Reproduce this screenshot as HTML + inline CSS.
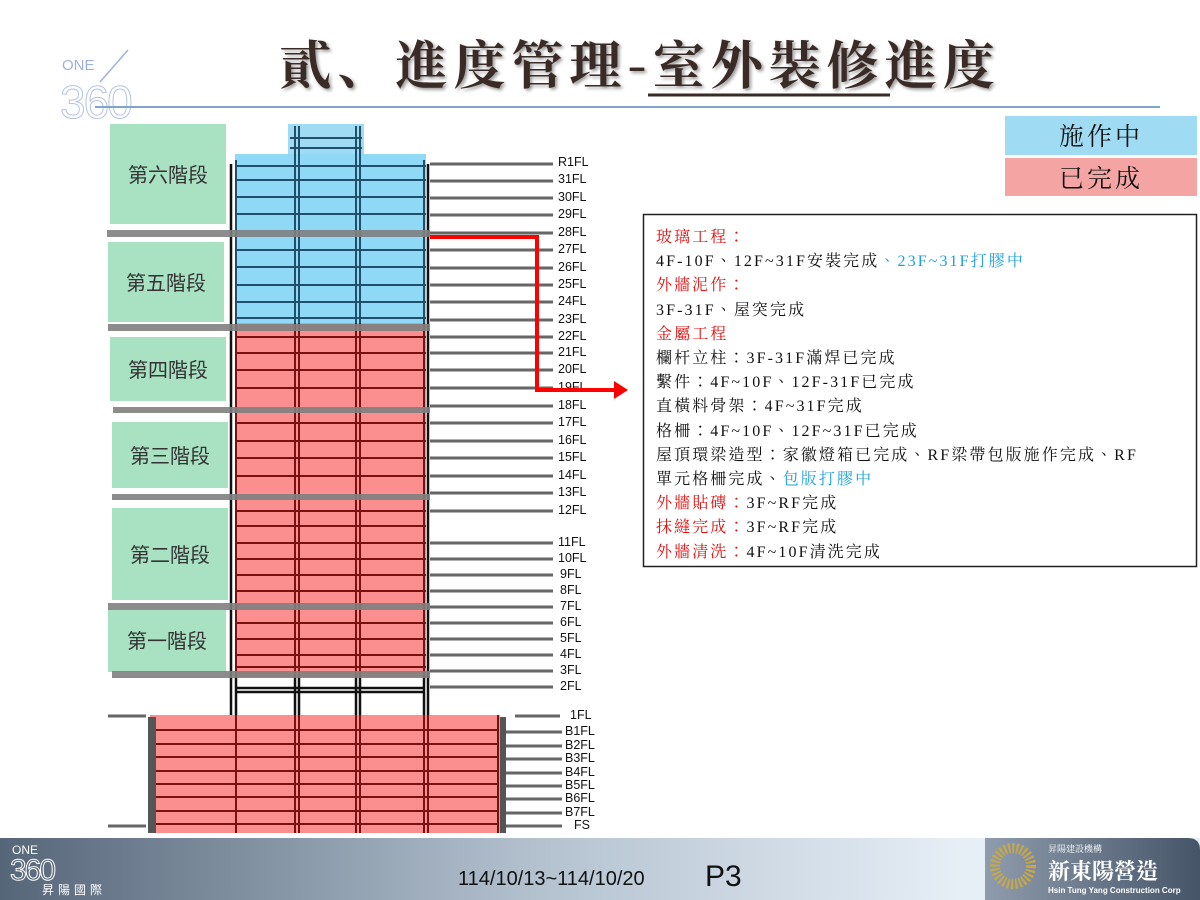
<!DOCTYPE html>
<html><head><meta charset="utf-8"><style>
html,body{margin:0;padding:0;background:#fff;}
body{width:1200px;height:900px;position:relative;overflow:hidden;font-family:"Liberation Sans","Noto Sans CJK TC",sans-serif;}
.t{position:absolute;}
</style></head><body>
<svg width="1200" height="900" style="position:absolute;left:0;top:0" xmlns="http://www.w3.org/2000/svg">
<defs>
<linearGradient id="ft" x1="0" x2="1" y1="0" y2="0"><stop offset="0" stop-color="#566679"/><stop offset="0.45" stop-color="#b4c2d0"/><stop offset="0.8" stop-color="#e6eef6"/><stop offset="1" stop-color="#e6eef6"/></linearGradient>
<linearGradient id="ft2" x1="0" x2="1"><stop offset="0" stop-color="#8e9cad"/><stop offset="1" stop-color="#465468"/></linearGradient>
</defs>
<!-- logo -->
<text x="62" y="70" font-size="15" fill="#9fb2dc" font-family="Liberation Sans">ONE</text>
<line x1="100" y1="82" x2="128" y2="50" stroke="#9fb2dc" stroke-width="1.5"/>
<text x="60" y="118" font-size="46" fill="none" stroke="#b5c4e4" stroke-width="1" font-family="Liberation Sans" letter-spacing="-2">360</text>
<line x1="95" y1="107" x2="1160" y2="107" stroke="#7fa6c8" stroke-width="2"/>
<!-- title -->
<text x="640" y="84" text-anchor="middle" font-size="52" font-weight="bold" fill="#3b2b26" font-family="Noto Serif CJK SC,serif" letter-spacing="6" style="text-shadow:2px 2px 3px #999">貳、進度管理-室外裝修進度</text>
<line x1="648" y1="95" x2="890" y2="95" stroke="#3b2b26" stroke-width="3"/>
<!-- legend -->
<rect x="1005" y="116" width="192" height="39" fill="#9fdcf4"/>
<rect x="1005" y="158" width="192" height="38" fill="#f5a4a4"/>
<text x="1101" y="145" text-anchor="middle" font-size="25" font-family="Noto Serif CJK TC,serif" fill="#111" letter-spacing="3">施作中</text>
<text x="1101" y="187" text-anchor="middle" font-size="25" font-family="Noto Serif CJK TC,serif" fill="#111" letter-spacing="3">已完成</text>
<!-- stage boxes -->
<g fill="#a9e2c3">
<rect x="110" y="124" width="116" height="100"/>
<rect x="108" y="242" width="116" height="80"/>
<rect x="110" y="337" width="116" height="64"/>
<rect x="112" y="422" width="116" height="66"/>
<rect x="112" y="508" width="116" height="92"/>
<rect x="108" y="610" width="118" height="62"/>
</g>
<g font-size="20" fill="#333" font-family="Noto Sans CJK TC,sans-serif" text-anchor="middle">
<text x="168" y="182">第六階段</text>
<text x="166" y="290">第五階段</text>
<text x="168" y="377">第四階段</text>
<text x="170" y="463">第三階段</text>
<text x="170" y="562">第二階段</text>
<text x="167" y="648">第一階段</text>
</g>
<!-- tower fills -->
<rect x="288" y="124" width="76" height="30" fill="#9fdcf4"/>
<rect x="235" y="154" width="191" height="169" fill="#8fd8f6"/>
<rect x="235" y="323" width="191" height="354" fill="#fb8f8f"/>
<rect x="150" y="715" width="350" height="118" fill="#fb8f8f"/>
<!-- tower structure lines -->
<g stroke="#1f4f6a" stroke-width="2">
<line x1="236" y1="166" x2="426" y2="166"/><line x1="236" y1="180" x2="426" y2="180"/><line x1="236" y1="197" x2="426" y2="197"/><line x1="236" y1="214" x2="426" y2="214"/><line x1="236" y1="250" x2="426" y2="250"/><line x1="236" y1="267" x2="426" y2="267"/><line x1="236" y1="285" x2="426" y2="285"/><line x1="236" y1="302" x2="426" y2="302"/><line x1="236" y1="318" x2="426" y2="318"/>
<line x1="290" y1="138" x2="362" y2="138"/><line x1="290" y1="148" x2="362" y2="148"/>
<line x1="295" y1="126" x2="295" y2="323"/><line x1="299" y1="126" x2="299" y2="323"/><line x1="356" y1="126" x2="356" y2="323"/><line x1="360" y1="126" x2="360" y2="323"/><line x1="236" y1="160" x2="236" y2="323"/><line x1="424" y1="160" x2="424" y2="323"/>
</g>
<g stroke="#7a1010" stroke-width="2">
<line x1="236" y1="337" x2="426" y2="337"/><line x1="236" y1="353" x2="426" y2="353"/><line x1="236" y1="370" x2="426" y2="370"/><line x1="236" y1="388" x2="426" y2="388"/><line x1="236" y1="423" x2="426" y2="423"/><line x1="236" y1="441" x2="426" y2="441"/><line x1="236" y1="458" x2="426" y2="458"/><line x1="236" y1="476" x2="426" y2="476"/><line x1="236" y1="511" x2="426" y2="511"/><line x1="236" y1="526" x2="426" y2="526"/><line x1="236" y1="543" x2="426" y2="543"/><line x1="236" y1="559" x2="426" y2="559"/><line x1="236" y1="575" x2="426" y2="575"/><line x1="236" y1="591" x2="426" y2="591"/><line x1="236" y1="623" x2="426" y2="623"/><line x1="236" y1="639" x2="426" y2="639"/><line x1="236" y1="655" x2="426" y2="655"/><line x1="236" y1="667" x2="426" y2="667"/>
<line x1="295" y1="323" x2="295" y2="677"/><line x1="299" y1="323" x2="299" y2="677"/><line x1="356" y1="323" x2="356" y2="677"/><line x1="360" y1="323" x2="360" y2="677"/><line x1="236" y1="323" x2="236" y2="677"/><line x1="424" y1="323" x2="424" y2="677"/>
<line x1="152" y1="730" x2="498" y2="730"/><line x1="152" y1="744" x2="498" y2="744"/><line x1="152" y1="757" x2="498" y2="757"/><line x1="152" y1="771" x2="498" y2="771"/><line x1="152" y1="784" x2="498" y2="784"/><line x1="152" y1="797" x2="498" y2="797"/><line x1="152" y1="811" x2="498" y2="811"/><line x1="152" y1="824" x2="498" y2="824"/>
<line x1="236" y1="715" x2="236" y2="833"/><line x1="295" y1="715" x2="295" y2="833"/><line x1="299" y1="715" x2="299" y2="833"/><line x1="356" y1="715" x2="356" y2="833"/><line x1="360" y1="715" x2="360" y2="833"/><line x1="424" y1="715" x2="424" y2="833"/><line x1="428" y1="715" x2="428" y2="833"/><line x1="498" y1="715" x2="498" y2="833"/>
</g>
<g stroke="#111" stroke-width="2.5">
<line x1="231" y1="164" x2="231" y2="715"/><line x1="428" y1="164" x2="428" y2="715"/>
<line x1="236" y1="677" x2="236" y2="715"/><line x1="424" y1="677" x2="424" y2="715"/><line x1="295" y1="677" x2="295" y2="715"/><line x1="299" y1="677" x2="299" y2="715"/><line x1="356" y1="677" x2="356" y2="715"/><line x1="360" y1="677" x2="360" y2="715"/>
<line x1="236" y1="688" x2="424" y2="688"/><line x1="236" y1="692" x2="424" y2="692"/>
</g>
<rect x="148" y="717" width="8" height="116" fill="#555"/>
<rect x="500" y="717" width="6" height="116" fill="#555"/>
<!-- gray stage bars -->
<g fill="#808080" opacity="0.9">
<rect x="107" y="230" width="323" height="7"/>
<rect x="108" y="324" width="322" height="7"/>
<rect x="113" y="407" width="317" height="6"/>
<rect x="112" y="494" width="318" height="6"/>
<rect x="108" y="603" width="322" height="7"/>
<rect x="112" y="671" width="318" height="7"/>
</g>
<!-- floor lines -->
<g stroke="#666" stroke-width="3">
<line x1="430" y1="164" x2="553" y2="164"/><line x1="430" y1="181" x2="553" y2="181"/><line x1="430" y1="198" x2="553" y2="198"/><line x1="430" y1="215" x2="553" y2="215"/><line x1="430" y1="233" x2="553" y2="233"/><line x1="430" y1="250" x2="553" y2="250"/><line x1="430" y1="268" x2="553" y2="268"/><line x1="430" y1="285" x2="553" y2="285"/><line x1="430" y1="302" x2="553" y2="302"/><line x1="430" y1="320" x2="553" y2="320"/><line x1="430" y1="337" x2="553" y2="337"/><line x1="430" y1="353" x2="553" y2="353"/><line x1="430" y1="370" x2="553" y2="370"/><line x1="430" y1="388" x2="553" y2="388"/><line x1="430" y1="406" x2="553" y2="406"/><line x1="430" y1="423" x2="553" y2="423"/><line x1="430" y1="441" x2="553" y2="441"/><line x1="430" y1="458" x2="553" y2="458"/><line x1="430" y1="476" x2="553" y2="476"/><line x1="430" y1="493" x2="553" y2="493"/><line x1="430" y1="511" x2="553" y2="511"/><line x1="430" y1="543" x2="553" y2="543"/><line x1="430" y1="559" x2="553" y2="559"/><line x1="430" y1="575" x2="553" y2="575"/><line x1="430" y1="591" x2="553" y2="591"/><line x1="430" y1="607" x2="553" y2="607"/><line x1="430" y1="623" x2="553" y2="623"/><line x1="430" y1="639" x2="553" y2="639"/><line x1="430" y1="655" x2="553" y2="655"/><line x1="430" y1="671" x2="553" y2="671"/><line x1="430" y1="687" x2="553" y2="687"/>
<line x1="515" y1="716" x2="560" y2="716"/><line x1="506" y1="732" x2="562" y2="732"/><line x1="506" y1="746" x2="562" y2="746"/><line x1="506" y1="759" x2="562" y2="759"/><line x1="506" y1="773" x2="562" y2="773"/><line x1="506" y1="786" x2="562" y2="786"/><line x1="506" y1="799" x2="562" y2="799"/><line x1="506" y1="813" x2="562" y2="813"/><line x1="506" y1="826" x2="562" y2="826"/>
<line x1="108" y1="716" x2="146" y2="716"/><line x1="108" y1="826" x2="146" y2="826"/>
</g>
<g font-size="12.5" fill="#111" font-family="Liberation Sans">
<text x="558" y="166">R1FL</text><text x="558" y="183">31FL</text><text x="558" y="201">30FL</text><text x="558" y="218">29FL</text><text x="558" y="236">28FL</text><text x="558" y="253">27FL</text><text x="558" y="271">26FL</text><text x="558" y="288">25FL</text><text x="558" y="305">24FL</text><text x="558" y="323">23FL</text><text x="558" y="340">22FL</text><text x="558" y="356">21FL</text><text x="558" y="373">20FL</text><text x="558" y="391">19FL</text><text x="558" y="409">18FL</text><text x="558" y="426">17FL</text><text x="558" y="444">16FL</text><text x="558" y="461">15FL</text><text x="558" y="479">14FL</text><text x="558" y="496">13FL</text><text x="558" y="514">12FL</text><text x="558" y="546">11FL</text><text x="558" y="562">10FL</text><text x="560" y="578">9FL</text><text x="560" y="594">8FL</text><text x="560" y="610">7FL</text><text x="560" y="626">6FL</text><text x="560" y="642">5FL</text><text x="560" y="658">4FL</text><text x="560" y="674">3FL</text><text x="560" y="690">2FL</text>
<text x="570" y="719">1FL</text><text x="565" y="735">B1FL</text><text x="565" y="749">B2FL</text><text x="565" y="762">B3FL</text><text x="565" y="776">B4FL</text><text x="565" y="789">B5FL</text><text x="565" y="802">B6FL</text><text x="565" y="816">B7FL</text><text x="574" y="829">FS</text>
</g>
<!-- red connector -->
<polyline points="430,237 537,237 537,390 618,390" fill="none" stroke="#f00" stroke-width="4"/>
<polygon points="628,390 614,381 614,399" fill="#f00"/>
<!-- text box -->
<rect x="643.5" y="214.5" width="553" height="352" fill="#fff" stroke="#222" stroke-width="1.5"/>
<!-- footer -->
<rect x="0" y="838" width="1200" height="62" fill="url(#ft)"/>
<path d="M985 838 H1188 Q1200 838 1200 850 V900 H985 Z" fill="url(#ft2)"/>
<g stroke="#c9a845" stroke-width="1.5">
<circle cx="1013" cy="866" r="18" fill="none" stroke-dasharray="2 2" stroke-width="10"/>
</g>
<text x="1048" y="852" font-size="9" fill="#fff" font-family="Noto Serif CJK TC,serif">昇陽建設機構</text>
<text x="1048" y="879" font-size="22" fill="#fff" font-family="Noto Serif CJK TC,serif" font-weight="bold">新東陽營造</text>
<text x="1048" y="893" font-size="8" fill="#fff" font-weight="bold">Hsin Tung Yang Construction Corp</text>
<text x="12" y="854" font-size="12" fill="#fff">ONE</text>
<text x="10" y="880" font-size="30" fill="none" stroke="#fff" stroke-width="1" letter-spacing="-2">360</text>
<text x="42" y="894" font-size="12" fill="#fff" font-family="Noto Sans CJK TC,sans-serif" letter-spacing="4">昇陽國際</text>
<text x="458" y="885" font-size="20" fill="#111" font-family="Liberation Sans">114/10/13~114/10/20</text>
<text x="705" y="886" font-size="30" fill="#111" font-family="Liberation Sans">P3</text>
</svg>
<div class="t" style="left:656px;top:226px;font-family:'Liberation Serif','Noto Serif CJK TC',serif;font-size:16px;line-height:24.2px;letter-spacing:2.1px;color:#111;white-space:nowrap">
<span style="color:#e01010">玻璃工程：</span><br>
4F-10F、12F~31F安裝完成<span style="color:#1aa0dc">、23F~31F打膠中</span><br>
<span style="color:#e01010">外牆泥作：</span><br>
3F-31F、屋突完成<br>
<span style="color:#e01010">金屬工程</span><br>
欄杆立柱：3F-31F滿焊已完成<br>
繫件：4F~10F、12F-31F已完成<br>
直橫料骨架：4F~31F完成<br>
格柵：4F~10F、12F~31F已完成<br>
屋頂環梁造型：家徽燈箱已完成、RF梁帶包版施作完成、RF<br>
單元格柵完成、<span style="color:#1aa0dc">包版打膠中</span><br>
<span style="color:#e01010">外牆貼磚：</span>3F~RF完成<br>
<span style="color:#e01010">抹縫完成：</span>3F~RF完成<br>
<span style="color:#e01010">外牆清洗：</span>4F~10F清洗完成
</div>
</body></html>
